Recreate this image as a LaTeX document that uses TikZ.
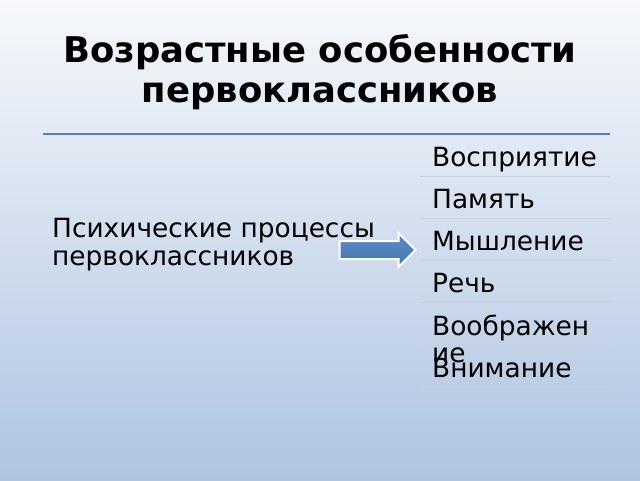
\documentclass[tikz,border=0pt]{standalone}
\usepackage{fontspec}
\setmainfont{DejaVu Sans}
\usetikzlibrary{shapes.arrows}
\definecolor{slidetop}{RGB}{246,248,251}
\definecolor{slidebottom}{RGB}{174,196,225}
\definecolor{rulecolor}{RGB}{79,129,189}
\definecolor{arrowlight}{RGB}{92,140,198}
\definecolor{arrowdark}{RGB}{70,118,178}
\definecolor{sepcolor}{RGB}{198,208,224}

\begin{document}
\begin{tikzpicture}[
    x=1pt, y=-1pt,
    titletxt/.style={font=\fontsize{35.4}{40}\selectfont\bfseries, anchor=base, inner sep=0pt},
    proctxt/.style={font=\fontsize{26.4}{28}\selectfont, anchor=base west, inner sep=0pt},
    itemtxt/.style={font=\fontsize{26.4}{29}\selectfont, anchor=base west, inner sep=0pt},
    sepline/.style={draw=sepcolor, line width=1pt},
    blockarrw/.style={single arrow, draw=white, line width=2pt,
        top color=arrowlight, bottom color=arrowdark, inner xsep=0pt, inner ysep=8pt,
        minimum height=76pt, single arrow head extend=8pt},
]

% === BACKGROUND ===
\shade[top color=slidetop, bottom color=slidebottom] (0,0) rectangle (640,480);
\useasboundingbox (0,0) rectangle (640,480);

% === TITLE ===
\node[titletxt] (title1) at (320,62) {Возрастные особенности};
\node[titletxt] (title2) at (320,102) {первоклассников};
\draw[rulecolor, line width=2pt] (43,134) -- (610,134);

% === LEFT TEXT ===
\node[proctxt] (proc1) at (52,237) {Психические процессы};
\node[proctxt] (proc2) at (52,265) {первоклассников};

% === ARROW ===
\node[blockarrw] (arr) at (373,250) {};

% === LIST ===
\foreach \y in {176,218,260,302,344,386}
    \draw[sepline] (420,\y) -- (610,\y);
\node[itemtxt] (item1) at (432,166) {Восприятие};
\node[itemtxt] (item2) at (432,208) {Память};
\node[itemtxt] (item3) at (432,250) {Мышление};
\node[itemtxt] (item4) at (432,292) {Речь};
\node[itemtxt] (item5) at (432,335) {Воображен};
\node[itemtxt] (item5b) at (432,362) {ие};
\node[itemtxt] (item6) at (432,377) {Внимание};

\end{tikzpicture}
\end{document}
